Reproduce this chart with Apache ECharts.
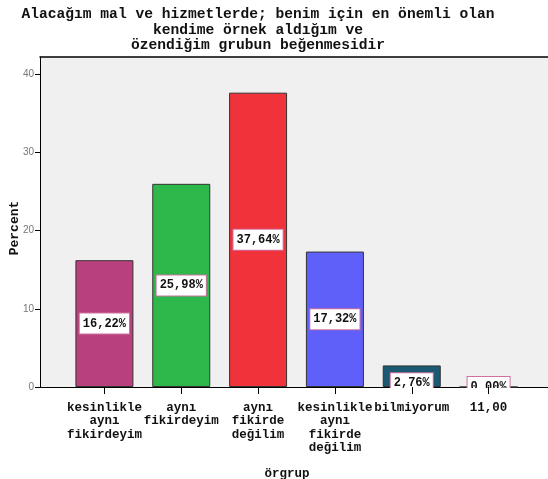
<!DOCTYPE html>
<html>
<head>
<meta charset="utf-8">
<script src="https://cdn.jsdelivr.net/npm/echarts@6/dist/echarts.min.js"></script>
<style>
  html, body { margin: 0; padding: 0; background: #ffffff; }
  #chart { width: 548px; height: 479px; }
</style>
</head>
<body>
<div id="chart"></div>
<script>
// Response categories (x axis) and their share in percent
const categories = [
  'kesinlikle\naynı\nfikirdeyim',
  'aynı\nfikirdeyim',
  'aynı\nfikirde\ndeğilim',
  'kesinlikle\naynı\nfikirde\ndeğilim',
  'bilmiyorum',
  '11,00'
];
const percentValues = [16.22, 25.98, 37.64, 17.32, 2.76, 0.00];
const barColors = ['#b9407e', '#2eb84b', '#f0323a', '#5f5ffa', '#1c5a73', '#1c5a73'];
const yTicks = [0, 10, 20, 30, 40];

const titleText = 'Alacağım mal ve hizmetlerde; benim için en önemli olan\nkendime örnek aldığım ve\nözendiğim grubun beğenmesidir';

const MONO = '"Liberation Mono", "Courier New", monospace';
const Y_MAX = 42.2;

const chart = echarts.init(document.getElementById('chart'), null, { renderer: 'canvas' });

// Value box of the short bar sits a little lower, over the axis
const labelOffsets = [[0, 0], [0, 0], [0, 0], [0, 0], [0, 7], [0, 0]];

const barData = percentValues.map((v, i) => ({
  value: v,
  itemStyle: { color: barColors[i] },
  label: { offset: labelOffsets[i] }
}));

chart.setOption({
  animation: false,
  backgroundColor: '#ffffff',
  title: [
    {
      text: titleText,
      left: 253,
      top: 2,
      textAlign: 'center',
      textStyle: { fontFamily: MONO, fontWeight: 'bold', fontSize: 14.6, lineHeight: 15.5, color: '#111' }
    },
    {
      text: 'örgrup',
      left: 282,
      top: 462,
      textAlign: 'center',
      textStyle: { fontFamily: MONO, fontWeight: 'bold', fontSize: 12.5, color: '#111' }
    }
  ],
  grid: [
    // frame + background of the plot
    { left: 40, right: 0, top: 57, bottom: 92, show: true, backgroundColor: '#f0f0f0', borderWidth: 0,
      containLabel: false, outerBoundsMode: 'none' },
    // inner area holding the bars
    { left: 66, right: 21, top: 57, bottom: 92, containLabel: false, outerBoundsMode: 'none' }
  ],
  xAxis: [
    { gridIndex: 0, type: 'value', min: 0, max: 1, position: 'bottom',
      axisLine: { show: true, lineStyle: { color: '#000', width: 1 } },
      axisTick: { show: false }, axisLabel: { show: false }, splitLine: { show: false } },
    { gridIndex: 0, type: 'value', min: 0, max: 1, position: 'top',
      axisLine: { show: true, lineStyle: { color: '#000', width: 1.5 } },
      axisTick: { show: false }, axisLabel: { show: false }, splitLine: { show: false } },
    { gridIndex: 1, type: 'category', data: categories, position: 'bottom', z: 20,
      axisLine: { show: false },
      axisTick: { show: true, alignWithLabel: true, length: 7, lineStyle: { color: '#000' } },
      axisLabel: { interval: 0, margin: 14, fontFamily: MONO, fontWeight: 'bold', fontSize: 12.5, lineHeight: 13.5, color: '#111' } }
  ],
  yAxis: [
    { gridIndex: 0, type: 'value', min: 0, max: Y_MAX, interval: 10,
      name: 'Percent', nameLocation: 'middle', nameGap: 19, nameMoveOverlap: false,
      nameTextStyle: { fontFamily: MONO, fontWeight: 'bold', fontSize: 13, color: '#111', padding: [0, 12, 0, 0] },
      axisLine: { show: true, lineStyle: { color: '#000', width: 1 } },
      axisTick: { show: true, length: 5, lineStyle: { color: '#000' }, customValues: yTicks },
      axisLabel: { fontFamily: '"Liberation Sans", Arial, sans-serif', fontSize: 10, color: '#777', margin: 6, customValues: yTicks },
      splitLine: { show: false } },
    { gridIndex: 1, type: 'value', min: 0, max: Y_MAX, show: false }
  ],
  series: [
    {
      type: 'bar',
      xAxisIndex: 2,
      yAxisIndex: 1,
      barWidth: 58,
      data: barData,
      itemStyle: { borderColor: '#333', borderWidth: 1 },
      label: {
        show: true,
        position: 'inside',
        formatter: p => p.value.toFixed(2).replace('.', ',') + '%',
        fontFamily: MONO,
        fontWeight: 'bold',
        fontSize: 12,
        color: '#111',
        backgroundColor: '#ffffff',
        borderColor: '#d070a0',
        borderWidth: 1,
        padding: [4, 3, 4, 3]
      }
    }
  ],
  graphic: [
    // hides the part of value boxes that falls below the plot area
    { type: 'rect', z: 10, shape: { x: 375, y: 388, width: 173, height: 11 }, style: { fill: '#ffffff' } }
  ]
});
</script>
</body>
</html>
